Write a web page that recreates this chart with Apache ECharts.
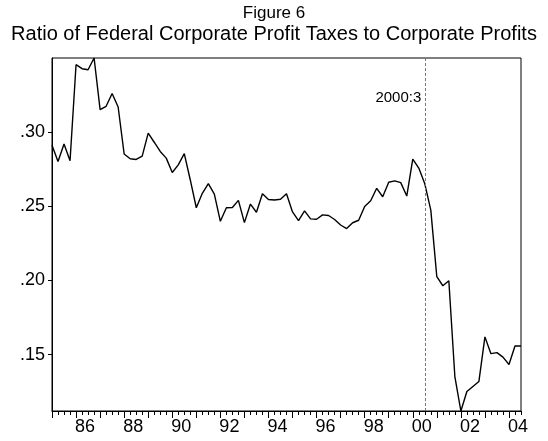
<!DOCTYPE html>
<html>
<head>
<meta charset="utf-8">
<script src="https://cdn.jsdelivr.net/npm/echarts@6/dist/echarts.min.js"></script>
<style>
  html, body { margin: 0; padding: 0; background: #fff; }
  #chart { width: 548px; height: 441px; }
</style>
</head>
<body>
<div id="chart"></div>
<script>
// Quarterly observations, 1985:1 through 2004:3
const firstYear = 1985;
const taxRatio = [
  0.2909, 0.2800, 0.2918, 0.2805, 0.3452, 0.3425, 0.3418, 0.3497, 0.3149, 0.3172,
  0.3258, 0.3167, 0.2851, 0.2819, 0.2814, 0.2837, 0.2991, 0.2930, 0.2868, 0.2823,
  0.2726, 0.2778, 0.2853, 0.2676, 0.2489, 0.2586, 0.2652, 0.2581, 0.2398, 0.2489,
  0.2491, 0.2539, 0.2389, 0.2514, 0.2459, 0.2583, 0.2545, 0.2541, 0.2546, 0.2583,
  0.2461, 0.2403, 0.2468, 0.2414, 0.2412, 0.2441, 0.2437, 0.2410, 0.2373, 0.2349,
  0.2388, 0.2405, 0.2498, 0.2536, 0.2620, 0.2563, 0.2661, 0.2670, 0.2658, 0.2568,
  0.2817, 0.2756, 0.2650, 0.2473, 0.2025, 0.1964, 0.1998, 0.1353, 0.1121, 0.1252,
  0.1286, 0.1320, 0.1620, 0.1507, 0.1514, 0.1484, 0.1434, 0.1559, 0.1559
];

// Quarter labels ("1985:1", ...)
const quarters = taxRatio.map((_, i) =>
  (firstYear + Math.floor(i / 4)) + ':' + (i % 4 + 1));

// Axis labels
const yTickValues = [0.15, 0.20, 0.25, 0.30];
const yTickLabels = ['.15', '.20', '.25', '.30'];
const xLabelYears = [1986, 1988, 1990, 1992, 1994, 1996, 1998, 2000, 2002, 2004];
const xLabelText = ['86', '88', '90', '92', '94', '96', '98', '00', '02', '04'];

// Highlighted quarter
const markQuarter = '2000:3';
const markLabelValue = 0.3226;

const lastIdx = quarters.length - 1;
const qIndex = q => quarters.indexOf(q);
const allQuarterTicks = quarters.map((_, i) => i);
const yearStartTicks = allQuarterTicks.filter(i => i % 4 === 0);
const yearLabelPos = xLabelYears.map(y => (y - firstYear) * 4 + 1.5);

const FONT = '"Liberation Sans", Arial, sans-serif';

const chart = echarts.init(document.getElementById('chart'));
chart.setOption({
  animation: false,
  backgroundColor: '#fff',
  title: [
    {
      text: 'Figure 6',
      left: 'center', top: 0,
      textStyle: { fontFamily: FONT, fontSize: 17, fontWeight: 'normal', color: '#000' }
    },
    {
      text: 'Ratio of Federal Corporate Profit Taxes to Corporate Profits',
      left: 'center', top: 19,
      textStyle: { fontFamily: FONT, fontSize: 20, fontWeight: 'normal', color: '#000' }
    }
  ],
  grid: {
    left: 52, right: 27, top: 58, bottom: 30,
    show: true, borderColor: '#000', borderWidth: 1, backgroundColor: 'transparent'
  },
  xAxis: [
    {
      type: 'value', min: 0, max: lastIdx, position: 'bottom',
      axisLine: { show: true, onZero: false, lineStyle: { color: '#000', width: 1 } },
      axisTick: { show: true, customValues: allQuarterTicks, length: 4, lineStyle: { color: '#000' } },
      axisLabel: { show: false },
      splitLine: { show: false }
    },
    {
      type: 'value', min: 0, max: lastIdx, position: 'bottom',
      axisLine: { show: false, onZero: false },
      axisTick: { show: true, customValues: yearStartTicks, length: 7, lineStyle: { color: '#000' } },
      axisLabel: {
        show: true, customValues: yearLabelPos, margin: 7,
        fontFamily: FONT, fontSize: 18, color: '#000',
        formatter: v => {
          const k = yearLabelPos.findIndex(p => Math.abs(p - v) < 1e-6);
          return k >= 0 ? xLabelText[k] : '';
        }
      },
      splitLine: { show: false }
    }
  ],
  yAxis: {
    type: 'value', min: 'dataMin', max: 'dataMax', scale: true,
    axisLine: { show: true, onZero: false, lineStyle: { color: '#000', width: 1 } },
    axisTick: { show: true, customValues: yTickValues, length: 4, lineStyle: { color: '#000' } },
    axisLabel: {
      show: true, customValues: yTickValues, margin: 7,
      fontFamily: FONT, fontSize: 18, color: '#000',
      formatter: v => {
        const k = yTickValues.findIndex(t => Math.abs(t - v) < 1e-9);
        return k >= 0 ? yTickLabels[k] : '';
      }
    },
    splitLine: { show: false }
  },
  series: [
    {
      type: 'line',
      xAxisIndex: 0,
      data: taxRatio.map((v, i) => [i, v]),
      showSymbol: false,
      lineStyle: { color: '#000', width: 1.4 },
      markLine: {
        silent: true, symbol: 'none',
        label: { show: false },
        lineStyle: { color: '#777', type: [3, 2], width: 1 },
        data: [{ xAxis: qIndex(markQuarter) }]
      },
      markPoint: {
        silent: true, symbol: 'circle', symbolSize: 1,
        itemStyle: { color: 'rgba(0,0,0,0)' },
        label: {
          show: true, position: 'left', distance: 3,
          formatter: markQuarter,
          fontFamily: FONT, fontSize: 15, color: '#000'
        },
        data: [{ coord: [qIndex(markQuarter), markLabelValue] }]
      }
    }
  ]
});
</script>
</body>
</html>
